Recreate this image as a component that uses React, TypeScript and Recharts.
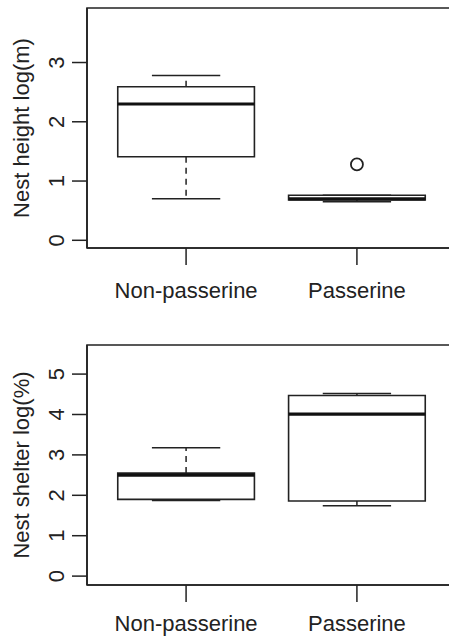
import React from "react";
import {
  ComposedChart,
  XAxis,
  YAxis,
  ReferenceArea,
  ReferenceLine,
  Scatter,
} from "recharts";

const groups = ["Non-passerine", "Passerine"];

// Nest height log(m)
const heightLowerWhisker = [0.7, 0.65];
const heightQ1 = [1.41, 0.68];
const heightMedian = [2.3, 0.7];
const heightQ3 = [2.59, 0.76];
const heightUpperWhisker = [2.78, 0.76];
const heightOutliers = [{ x: 2, y: 1.28 }];
const heightTicks = [0, 1, 2, 3];

// Nest shelter log(%)
const shelterLowerWhisker = [1.87, 1.74];
const shelterQ1 = [1.9, 1.86];
const shelterMedian = [2.5, 4.01];
const shelterQ3 = [2.55, 4.47];
const shelterUpperWhisker = [3.18, 4.52];
const shelterOutliers: { x: number; y: number }[] = [];
const shelterTicks = [0, 1, 2, 3, 4, 5];

const INK = "#222";
const FONT = "'Liberation Sans', Arial, sans-serif";

function YTick(props: any) {
  const { x, y, payload } = props;
  return (
    <g transform={`translate(${x - 6}, ${y}) rotate(-90)`}>
      <text
        x={0}
        y={0}
        textAnchor="middle"
        fontSize={22}
        fontFamily={FONT}
        fill={INK}
      >
        {payload.value}
      </text>
    </g>
  );
}

function XTick(props: any) {
  const { x, y, payload, offset } = props;
  return (
    <text
      x={x}
      y={y + offset}
      textAnchor="middle"
      fontSize={22}
      fontFamily={FONT}
      fill={INK}
    >
      {groups[payload.value - 1]}
    </text>
  );
}

interface BoxPanelProps {
  top: number;
  height: number;
  marginTop: number;
  xAxisHeight: number;
  labelOffset: number;
  domain: [number, number];
  ticks: number[];
  title: string;
  lower: number[];
  q1: number[];
  median: number[];
  q3: number[];
  upper: number[];
  outliers: { x: number; y: number }[];
}

function BoxPanel(p: BoxPanelProps) {
  const parts: React.ReactNode[] = [];
  groups.forEach((g, i) => {
    const c = i + 1;
    parts.push(
      <ReferenceLine
        key={`wu${i}`}
        segment={[{ x: c, y: p.q3[i] }, { x: c, y: p.upper[i] }]}
        stroke={INK}
        strokeWidth={1.5}
        strokeDasharray="6 5"
      />,
      <ReferenceLine
        key={`wl${i}`}
        segment={[{ x: c, y: p.q1[i] }, { x: c, y: p.lower[i] }]}
        stroke={INK}
        strokeWidth={1.5}
        strokeDasharray="6 5"
      />,
      <ReferenceLine
        key={`cu${i}`}
        segment={[{ x: c - 0.2, y: p.upper[i] }, { x: c + 0.2, y: p.upper[i] }]}
        stroke={INK}
        strokeWidth={1.5}
      />,
      <ReferenceLine
        key={`cl${i}`}
        segment={[{ x: c - 0.2, y: p.lower[i] }, { x: c + 0.2, y: p.lower[i] }]}
        stroke={INK}
        strokeWidth={1.5}
      />,
      <ReferenceArea
        key={`b${i}`}
        x1={c - 0.4}
        x2={c + 0.4}
        y1={p.q1[i]}
        y2={p.q3[i]}
        fill="#fff"
        fillOpacity={1}
        stroke={INK}
        strokeWidth={1.6}
      />,
      <ReferenceLine
        key={`m${i}`}
        segment={[{ x: c - 0.4, y: p.median[i] }, { x: c + 0.4, y: p.median[i] }]}
        stroke="#111"
        strokeWidth={3.2}
      />
    );
  });

  // keeps the axes populated even when a panel has no outliers
  const anchor = [{ x: 1, y: p.median[0] }];

  return (
    <div style={{ position: "absolute", left: 0, top: p.top }}>
      <ComposedChart
        width={470}
        height={p.height}
        margin={{ top: p.marginTop, right: 14, bottom: 0, left: 0 }}
      >
        <XAxis
          type="number"
          dataKey="x"
          domain={[0.42, 2.58]}
          ticks={[1, 2]}
          allowDataOverflow
          height={p.xAxisHeight}
          tickSize={17}
          tickLine={{ stroke: INK, strokeWidth: 1.5 }}
          axisLine={{ stroke: INK, strokeWidth: 1.6 }}
          tick={(t: any) => <XTick {...t} offset={p.labelOffset} />}
        />
        <YAxis
          type="number"
          domain={p.domain}
          ticks={p.ticks}
          allowDataOverflow
          width={87}
          tickSize={15}
          tickLine={{ stroke: INK, strokeWidth: 1.5 }}
          axisLine={{ stroke: INK, strokeWidth: 1.6 }}
          tick={(t: any) => <YTick {...t} />}
          label={{
            content: ({ viewBox }: any) => {
              const cy = viewBox.y + viewBox.height / 2;
              return (
                <text
                  x={28.5}
                  y={cy}
                  transform={`rotate(-90, 28.5, ${cy})`}
                  textAnchor="middle"
                  fontSize={22}
                  fontFamily={FONT}
                  fill={INK}
                >
                  {p.title}
                </text>
              );
            },
          }}
        />
        {/* box frame around the plot region */}
        <ReferenceArea
          x1={0.42}
          x2={2.58}
          y1={p.domain[0]}
          y2={p.domain[1]}
          fill="none"
          stroke={INK}
          strokeWidth={1.6}
          ifOverflow="visible"
        />
        {parts}
        <Scatter
          data={anchor}
          dataKey="y"
          isAnimationActive={false}
          shape={() => <g />}
        />
        <Scatter
          data={p.outliers}
          dataKey="y"
          isAnimationActive={false}
          shape={(s: any) => (
            <circle
              cx={s.cx}
              cy={s.cy}
              r={6}
              fill="none"
              stroke={INK}
              strokeWidth={1.8}
            />
          )}
        />
      </ComposedChart>
    </div>
  );
}

export default function App() {
  return (
    <div
      style={{
        position: "absolute",
        left: 0,
        top: 0,
        width: 449,
        height: 638,
        overflow: "hidden",
        background: "#fff",
      }}
    >
      <BoxPanel
        top={0}
        height={320}
        marginTop={8}
        xAxisHeight={72}
        labelOffset={31}
        domain={[-0.13, 3.92]}
        ticks={heightTicks}
        title="Nest height log(m)"
        lower={heightLowerWhisker}
        q1={heightQ1}
        median={heightMedian}
        q3={heightQ3}
        upper={heightUpperWhisker}
        outliers={heightOutliers}
      />
      <BoxPanel
        top={320}
        height={318}
        marginTop={25}
        xAxisHeight={53}
        labelOffset={27}
        domain={[-0.22, 5.72]}
        ticks={shelterTicks}
        title="Nest shelter log(%)"
        lower={shelterLowerWhisker}
        q1={shelterQ1}
        median={shelterMedian}
        q3={shelterQ3}
        upper={shelterUpperWhisker}
        outliers={shelterOutliers}
      />
    </div>
  );
}
